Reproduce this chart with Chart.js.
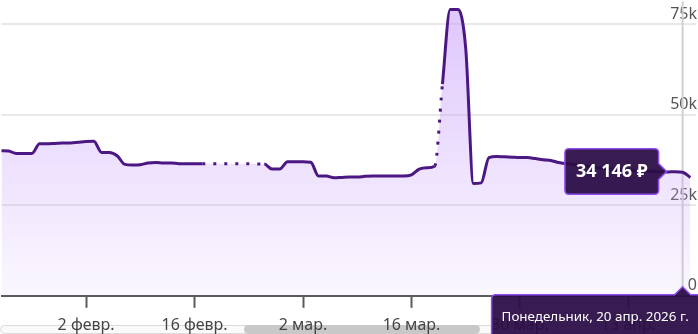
<!DOCTYPE html>
<html lang="ru">
<head>
    <meta charset="UTF-8">
    <meta name="viewport" content="width=device-width, initial-scale=1.0">
    <title>История цены</title>
    <script src="https://cdn.jsdelivr.net/npm/chart.js"></script>
    <style>
        body { margin: 0; background: #fff; }
        .wrap { position: relative; width: 698px; height: 334px; overflow: hidden; }
        /* полоса прокрутки под осью */
        .track { position: absolute; left: 0; top: 325px; width: 696px; height: 7px; border: 1px solid #dcdcdc; border-radius: 5px; background: #fafafa; }
        .thumb { position: absolute; left: 244px; top: 325px; width: 236px; height: 9px; border-radius: 5px; background: #c8c8c8; }
        canvas { position: absolute; left: 0; top: 0; }
    </style>
</head>
<body>
<div class="wrap">
    <div class="track"></div>
    <div class="thumb"></div>
    <!-- холст чуть выше окна: подписи оси X обрезаны снизу, как в оригинале -->
    <canvas id="priceChart" width="698" height="343"></canvas>
</div>

<script>
    // дни считаются от 1 января 2026 (0 = 1 янв.)
    const startDay = 21;
    const prices = [
        40100, 40000, 39300, 39300, 39300, 42000, 42000, 42100, 42200, 42200,
        42400, 42600, 42700, 39600, 39600, 38700, 36300, 36100, 36200, 36700,
        36800, 36700, 36700, 36500, 36500, 36500, 36500, null, null, null,
        null, null, null, null, 36400, 35000, 35000, 37000, 37000, 37000,
        36900, 33100, 33100, 32600, 32700, 32800, 32800, 33000, 33100, 33100,
        33100, 33100, 33100, 33400, 35000, 35400, 35800, 58500, 79100, 79100,
        68500, 31000, 31200, 38200, 38500, 38400, 38300, 38200, 38200, 37900,
        37600, 37400, 36800, 36500, 36300, 36000, 35700, 35400, 35200, 35000,
        34900, 34700, 34600, 34500, 34400, 34300, 34200, 34300, 34146, 32700
    ];
    const tickDays = [32, 46, 60, 74, 88, 102];
    const tickLabels = ['2 февр.', '16 февр.', '2 мар.', '16 мар.', '30 мар.', '13 апр.'];
    const yTicks = [0, 25000, 50000, 75000];
    const dottedFrom = [77];   // участки без данных рисуются точками
    const hoverDay = 109;
    const hoverLabel = 'Понедельник, 20 апр. 2026 г.';

    Chart.defaults.font.family = "'Noto Sans', 'DejaVu Sans', sans-serif";

    const points = prices.map((v, i) => ({ x: startDay + i, y: v }));

    function formatPrice(v) {
        return String(Math.round(v)).replace(/\B(?=(\d{3})+(?!\d))/g, '\u00a0') + '\u00a0₽';
    }

    function isDotted(s) {
        return prices[s.p0DataIndex] === null || dottedFrom.includes(startDay + s.p0DataIndex);
    }

    // вертикальная линия на выбранной дате
    const crosshair = {
        id: 'crosshair',
        beforeDatasetsDraw(chart) {
            const x = chart.scales.x.getPixelForValue(hoverDay);
            const c = chart.ctx;
            c.save();
            c.strokeStyle = '#d0d0d0';
            c.lineWidth = 2;
            c.beginPath();
            c.moveTo(x, chart.chartArea.top);
            c.lineTo(x, chart.chartArea.bottom);
            c.stroke();
            c.restore();
        }
    };

    // плашка с датой под осью
    const dateBubble = {
        id: 'dateBubble',
        afterDraw(chart) {
            const x = chart.scales.x.getPixelForValue(hoverDay);
            const c = chart.ctx;
            const top = chart.chartArea.bottom - 1;
            const left = x - 191, right = x + 60, bottom = top + 50, r = 4;
            c.save();
            c.beginPath();
            c.moveTo(left + r, top);
            c.lineTo(x - 8, top);
            c.lineTo(x, top - 8);
            c.lineTo(x + 8, top);
            c.lineTo(right, top);
            c.lineTo(right, bottom);
            c.lineTo(left, bottom);
            c.lineTo(left, top + r);
            c.quadraticCurveTo(left, top, left + r, top);
            c.closePath();
            c.fillStyle = 'rgba(42, 13, 70, 0.94)';
            c.fill();
            c.strokeStyle = '#8e4cf0';
            c.lineWidth = 1.5;
            c.stroke();
            c.fillStyle = '#fff';
            c.font = "13.4px 'Noto Sans', sans-serif";
            c.textBaseline = 'middle';
            c.fillText(hoverLabel, left + 10, top + 22);
            c.restore();
        }
    };

    const fillGradient = (c) => {
        const a = c.chart.chartArea;
        if (!a) return 'rgba(200, 160, 250, 0.3)';
        const g = c.chart.ctx.createLinearGradient(0, a.top, 0, a.bottom);
        g.addColorStop(0, 'rgba(200, 160, 250, 0.6)');
        g.addColorStop(1, 'rgba(200, 160, 250, 0.08)');
        return g;
    };

    const ctx = document.getElementById('priceChart').getContext('2d');
    const chart = new Chart(ctx, {
        type: 'line',
        data: {
            datasets: [{
                // линия
                data: points,
                borderColor: '#4b1782',
                borderWidth: 3,
                pointRadius: 0,
                pointHoverRadius: 0,
                cubicInterpolationMode: 'monotone',
                spanGaps: true,
                fill: false,
                segment: {
                    borderDash: (s) => isDotted(s) ? [3, 8] : undefined
                }
            }, {
                // заливка под линией
                data: points,
                borderWidth: 0,
                borderColor: 'rgba(0,0,0,0)',
                pointRadius: 0,
                pointHoverRadius: 0,
                cubicInterpolationMode: 'monotone',
                spanGaps: true,
                fill: 'origin',
                backgroundColor: fillGradient
            }]
        },
        options: {
            responsive: false,
            animation: false,
            events: [],
            layout: { padding: 0 },
            scales: {
                x: {
                    type: 'linear',
                    min: 21.08,
                    max: 110.73,
                    afterBuildTicks: (s) => { s.ticks = tickDays.map(v => ({ value: v })); },
                    ticks: {
                        autoSkip: false,
                        maxRotation: 0,
                        padding: 8,
                        color: '#444',
                        font: { size: 16 },
                        callback: (v) => tickLabels[tickDays.indexOf(v)]
                    },
                    grid: { drawOnChartArea: false, tickLength: 12, tickWidth: 2, tickColor: '#5a5a5a' },
                    border: { color: '#5a5a5a', width: 2 }
                },
                y: {
                    position: 'right',
                    min: 0,
                    max: 81300,
                    afterBuildTicks: (s) => { s.ticks = yTicks.map(v => ({ value: v })); },
                    afterFit: (s) => { s.paddingTop = 0; s.paddingBottom = 0; },
                    ticks: {
                        mirror: true,
                        padding: 1,
                        labelOffset: -10,
                        color: '#555',
                        font: { size: 16 },
                        callback: (v) => v === 0 ? '0' : (v / 1000) + 'k'
                    },
                    grid: { color: '#e8e8e8', lineWidth: 2, drawTicks: false },
                    border: { display: false }
                }
            },
            plugins: {
                legend: { display: false },
                tooltip: {
                    xAlign: 'right',
                    yAlign: 'center',
                    caretSize: 8,
                    caretPadding: 16,
                    cornerRadius: 4,
                    backgroundColor: 'rgba(42, 13, 70, 0.94)',
                    borderColor: '#8e4cf0',
                    borderWidth: 1.5,
                    displayColors: false,
                    padding: { x: 11, y: 12 },
                    bodyColor: '#fff',
                    bodyFont: { size: 18, weight: 'bold' },
                    callbacks: {
                        title: () => '',
                        label: (c) => formatPrice(c.parsed.y)
                    }
                }
            }
        },
        plugins: [crosshair, dateBubble]
    });

    const idx = hoverDay - startDay;
    const el = chart.getDatasetMeta(0).data[idx];
    chart.setActiveElements([{ datasetIndex: 0, index: idx }]);
    chart.tooltip.setActiveElements([{ datasetIndex: 0, index: idx }], { x: el.x, y: el.y });
    chart.update();
</script>
</body>
</html>
